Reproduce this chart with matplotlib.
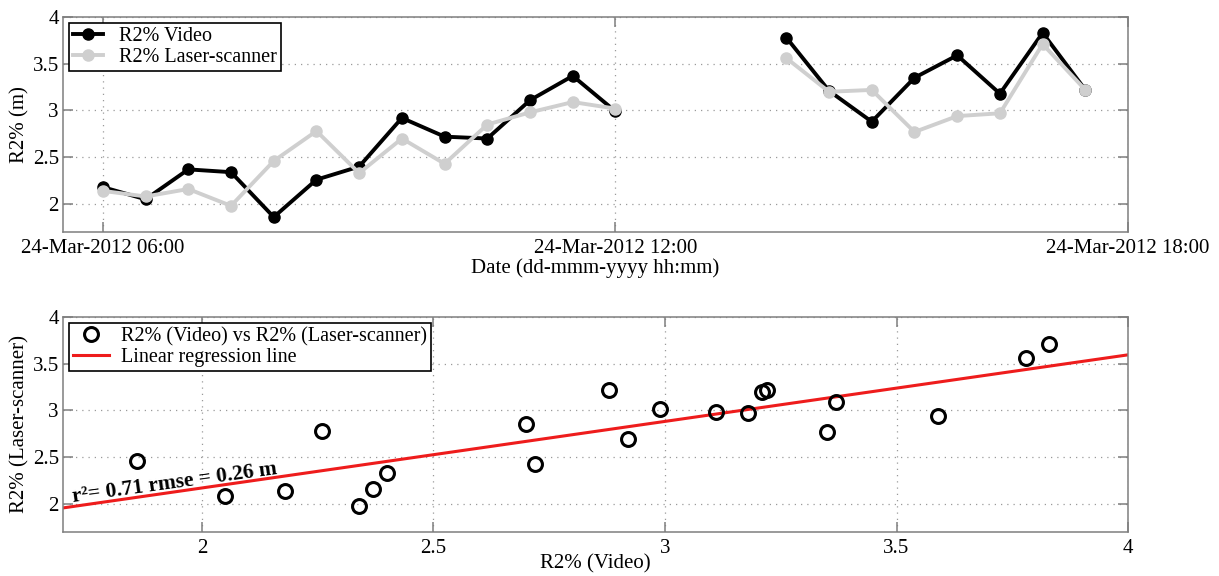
import datetime as dt
import numpy as np
import matplotlib
matplotlib.use("Agg")
import matplotlib.pyplot as plt
import matplotlib.dates as mdates

# R2% values (m), 30-min intervals
times_morning = [dt.datetime(2012, 3, 24, 6, 0) + dt.timedelta(minutes=30 * i) for i in range(13)]
times_afternoon = [dt.datetime(2012, 3, 24, 14, 0) + dt.timedelta(minutes=30 * i) for i in range(8)]

video_morning = [2.18, 2.05, 2.37, 2.34, 1.86, 2.26, 2.40, 2.92, 2.72, 2.70, 3.11, 3.37, 2.99]
laser_morning = [2.14, 2.08, 2.16, 1.98, 2.46, 2.78, 2.33, 2.70, 2.43, 2.85, 2.98, 3.09, 3.02]
video_afternoon = [3.78, 3.21, 2.88, 3.35, 3.59, 3.18, 3.83, 3.22]
laser_afternoon = [3.56, 3.20, 3.22, 2.77, 2.94, 2.97, 3.71, 3.22]

# regression line
reg_slope = 0.712
reg_intercept = 0.747
fit_label = "r\u00b2= 0.71 rmse = 0.26 m"

plt.rcParams["font.family"] = ["Liberation Serif", "DejaVu Serif"]
plt.rcParams["font.size"] = 15

GRID = dict(color="#9a9a9a", linestyle=(0, (1, 4)), linewidth=0.9)
SPINE = "#7f7f7f"


def style_axes(ax):
    for s in ax.spines.values():
        s.set_color(SPINE)
        s.set_linewidth(1.1)
    ax.tick_params(direction="in", length=7, width=1.1, color=SPINE,
                   top=True, right=True, labelsize=15, pad=3)
    ax.grid(True, **GRID)
    ax.set_axisbelow(True)


fig = plt.figure(figsize=(12.19, 5.76), dpi=100)

# top panel: time series
ax1 = fig.add_axes([0.0517, 0.5972, 0.8737, 0.3733])
ax1.plot(times_morning, video_morning, "-o", color="black", lw=2.8, ms=8,
         label="R2% Video", zorder=3)
ax1.plot(times_afternoon, video_afternoon, "-o", color="black", lw=2.8, ms=8, zorder=3)
ax1.plot(times_morning, laser_morning, "-o", color="#cfcfcf", lw=2.8, ms=8,
         label="R2% Laser-scanner", zorder=4)
ax1.plot(times_afternoon, laser_afternoon, "-o", color="#cfcfcf", lw=2.8, ms=8, zorder=4)
ax1.set_xlim(dt.datetime(2012, 3, 24, 5, 32), dt.datetime(2012, 3, 24, 18, 0))
ax1.set_ylim(1.7, 4)
ax1.set_yticks([2, 2.5, 3, 3.5, 4])
ax1.set_yticklabels(["2", "2.5", "3", "3.5", "4"])
ax1.set_xticks([dt.datetime(2012, 3, 24, h, 0) for h in (6, 12, 18)])
ax1.xaxis.set_major_formatter(mdates.DateFormatter("%d-%b-%Y %H:%M"))
ax1.set_ylabel("R2% (m)", labelpad=2)
ax1.set_xlabel("Date (dd-mmm-yyyy hh:mm)", labelpad=0)
style_axes(ax1)
ax1.tick_params(axis="x", pad=5)
leg1 = ax1.legend(loc="upper left", fancybox=False, edgecolor="black", fontsize=14.5,
                  handlelength=1.5, borderpad=0.2, labelspacing=0.1,
                  handletextpad=0.8, borderaxespad=0.3, framealpha=1)
leg1.get_frame().set_linewidth(1.2)

# bottom panel: scatter with regression line
video_all = video_morning + video_afternoon
laser_all = laser_morning + laser_afternoon

ax2 = fig.add_axes([0.0517, 0.0764, 0.8737, 0.3733])
ax2.plot(video_all, laser_all, "o", mfc="none", mec="black", mew=2.2, ms=10,
         label="R2% (Video) vs R2% (Laser-scanner)", zorder=3)
xr = np.array([1.7, 4.0])
ax2.plot(xr, reg_intercept + reg_slope * xr, color="#ee1c1c", lw=2.2,
         label="Linear regression line", zorder=2)
ax2.set_xlim(1.7, 4)
ax2.set_ylim(1.7, 4)
ax2.set_xticks([2, 2.5, 3, 3.5, 4])
ax2.set_xticklabels(["2", "2.5", "3", "3.5", "4"])
ax2.set_yticks([2, 2.5, 3, 3.5, 4])
ax2.set_yticklabels(["2", "2.5", "3", "3.5", "4"])
ax2.set_xlabel("R2% (Video)", labelpad=-3)
ax2.set_ylabel("R2% (Laser-scanner)", labelpad=2)
style_axes(ax2)
ax2.tick_params(axis="x", pad=5)
leg2 = ax2.legend(loc="upper left", fancybox=False, edgecolor="black", fontsize=14.5,
                  handlelength=1.8, borderpad=0.2, labelspacing=0.1,
                  handletextpad=0.6, borderaxespad=0.3, framealpha=1)
leg2.get_frame().set_linewidth(1.2)
ax2.text(1.722, 1.97, fit_label, fontsize=15.5, fontweight="bold",
         rotation=7.8, rotation_mode="anchor", ha="left", va="bottom", zorder=5)

fig.savefig("out.png", dpi=100)
